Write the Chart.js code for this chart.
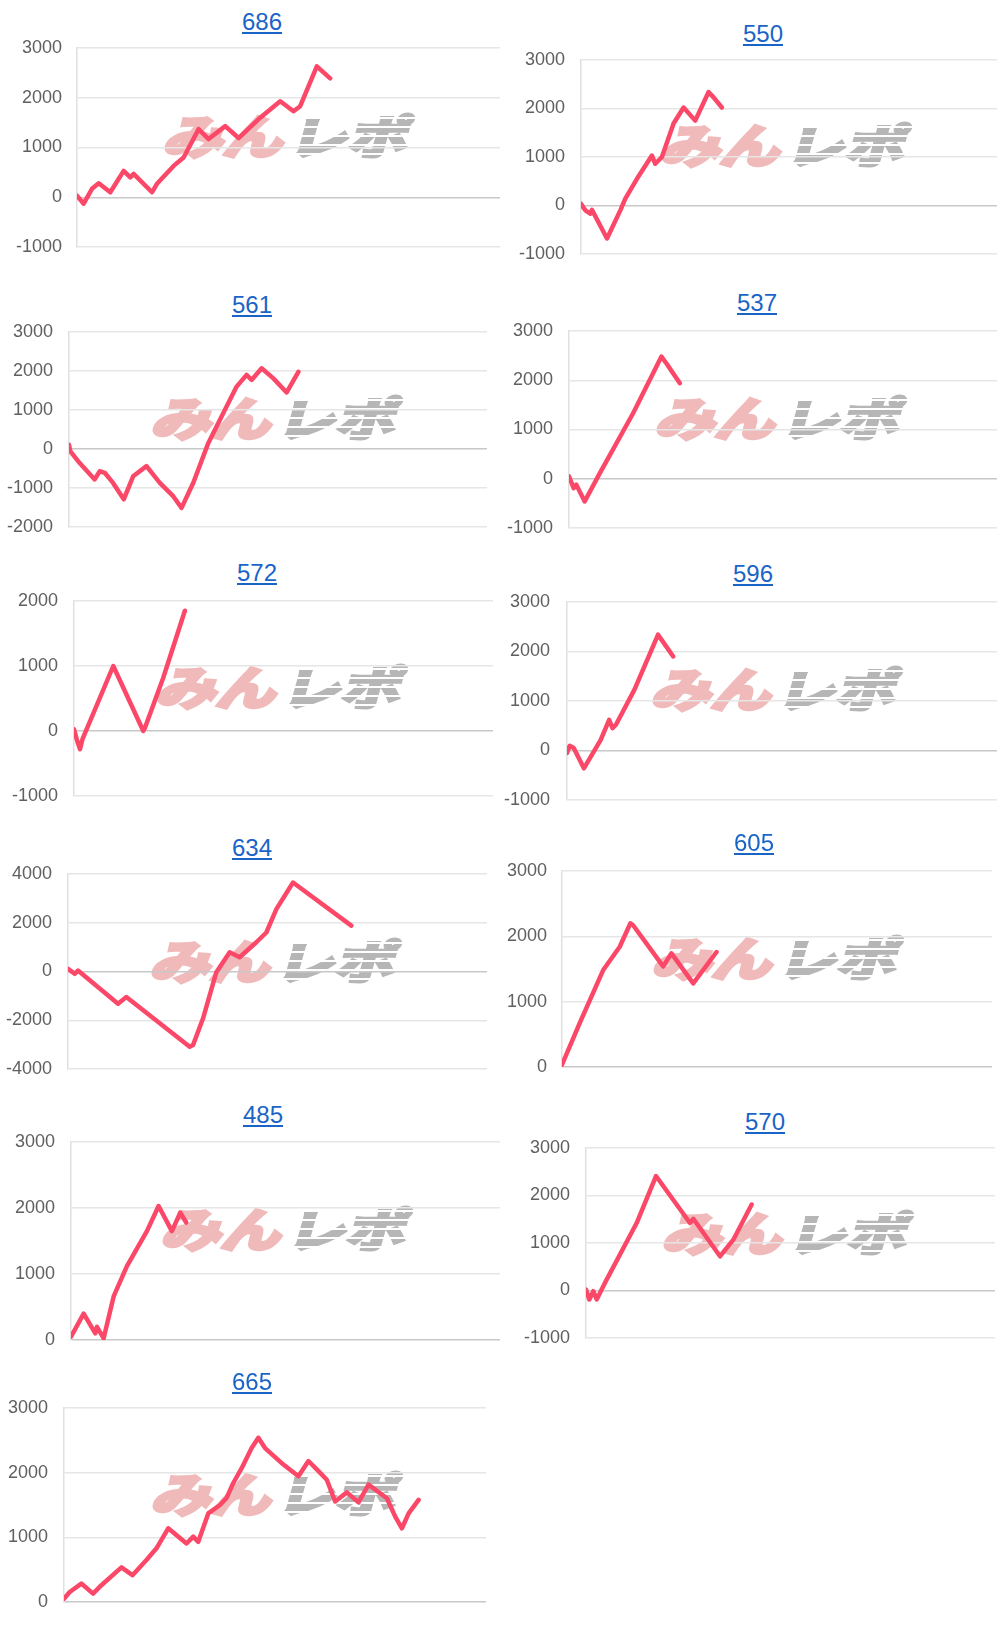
<!DOCTYPE html>
<html>
<head>
<meta charset="utf-8">
<script src="https://cdn.jsdelivr.net/npm/chart.js@4.4.1/dist/chart.umd.min.js"></script>
<style>
body { margin: 0; background: #fff; }
#page { position: relative; width: 1000px; height: 1625px; overflow: hidden; font-family: "Liberation Sans", Arial, sans-serif; }
.title { position: absolute; transform: translate(-50%, -50%); font-size: 24px; color: #1a64c8; text-decoration: underline; white-space: nowrap; }
.wm { position: absolute; transform: translate(-50%, -50%) scaleX(1.3) skewX(-12deg); font-family: "Noto Sans CJK JP", sans-serif; font-weight: 700; font-size: 46px; line-height: 1; white-space: nowrap; }
.wm .a { -webkit-text-stroke: 4px rgb(241, 186, 186); color: rgb(241, 186, 186); }
.wm .b { position: relative; margin-left: 4px; color: #b6b6b6; -webkit-text-stroke: 3.5px #b6b6b6; }
.wm .b::after { content: ""; position: absolute; left: -4px; right: -4px; top: 0; bottom: 0;
  background: repeating-linear-gradient(180deg, rgba(255,255,255,0) 0 7px, #fff 7px 9px); }
canvas { position: absolute; }
</style>
</head>
<body>
<div id="page"></div>
<script>
// machine numbers (chart titles)
const machines = ['686', '550', '561', '537', '572', '596', '634', '605', '485', '570', '665'];

// games played / cumulative difference
const games686 = [0, 126, 283, 410, 630, 882, 1008, 1071, 1418, 1512, 1827, 2016, 2300, 2489, 2804, 3056, 3465, 3843, 4095, 4221, 4536, 4788];
const diff686 = [30, -130, 170, 280, 100, 530, 400, 470, 100, 270, 630, 800, 1370, 1170, 1430, 1190, 1600, 1930, 1730, 1830, 2630, 2390];

const games550 = [0, 83, 179, 211, 500, 756, 852, 1076, 1364, 1428, 1556, 1780, 1973, 2197, 2453, 2549, 2709];
const diff550 = [35, -100, -170, -90, -680, -100, 140, 550, 1030, 860, 1000, 1690, 2020, 1750, 2340, 2230, 2020];

const games561 = [0, 26, 204, 492, 588, 684, 843, 1048, 1227, 1483, 1738, 1994, 2154, 2377, 2665, 2889, 3208, 3399, 3495, 3687, 3911, 4166, 4390];
const diff561 = [110, -60, -360, -780, -570, -610, -870, -1290, -700, -440, -870, -1210, -1510, -870, 150, 750, 1600, 1900, 1770, 2070, 1810, 1450, 1980];

const games537 = [0, 87, 137, 293, 574, 1198, 1728, 1822, 2072];
const diff537 = [50, -190, -120, -460, 110, 1330, 2480, 2340, 1940];

const games572 = [0, 60, 115, 160, 750, 1323, 1355, 1704, 2117];
const diff572 = [25, -150, -280, -130, 1000, 0, 50, 820, 1850];

const games596 = [0, 50, 125, 314, 627, 784, 847, 910, 1255, 1694, 1757, 1976];
const diff596 = [-50, 95, 50, -360, 215, 620, 450, 520, 1230, 2340, 2240, 1900];

const games634 = [0, 127, 191, 955, 1114, 2323, 2387, 2577, 2705, 2832, 3087, 3277, 3596, 3787, 3978, 4296, 5409];
const diff634 = [110, -95, 40, -1320, -1050, -3090, -3020, -1930, -980, -30, 790, 585, 1200, 1600, 2560, 3650, 1880];

const games605 = [0, 329, 764, 1074, 1273, 1323, 1882, 2037, 2441, 2875];
const diff605 = [35, 670, 1480, 1840, 2200, 2170, 1540, 1740, 1280, 1760];

const games485 = [0, 236, 453, 484, 609, 795, 1043, 1416, 1633, 1882, 2037, 2149];
const diff485 = [50, 400, 100, 200, 25, 660, 1120, 1650, 2030, 1650, 1930, 1780];

const games570 = [0, 65, 143, 209, 404, 991, 1369, 2034, 2099, 2621, 2882, 3240];
const diff570 = [20, -190, -15, -190, 230, 1420, 2410, 1420, 1510, 720, 1070, 1810];

const games665 = [0, 108, 329, 551, 677, 1089, 1298, 1563, 1753, 1975, 2323, 2450, 2545, 2735, 2956, 3083, 3209, 3368, 3557, 3684, 3811, 4159, 4444, 4634, 4792, 4982, 5140, 5362, 5583, 5773, 6121, 6279, 6406, 6533, 6722];
const diff665 = [50, 155, 285, 130, 235, 535, 415, 650, 830, 1140, 905, 1010, 930, 1370, 1500, 1610, 1840, 2070, 2380, 2540, 2380, 2125, 1945, 2180, 2050, 1890, 1555, 1695, 1540, 1815, 1605, 1320, 1140, 1370, 1580];

// y axis ranges (min, max, step)
const yMin = [-1000, -1000, -2000, -1000, -1000, -1000, -4000, 0, 0, -1000, 0];
const yMax = [3000, 3000, 3000, 3000, 2000, 3000, 4000, 3000, 3000, 3000, 3000];
const yStep = [1000, 1000, 1000, 1000, 1000, 1000, 2000, 1000, 1000, 1000, 1000];
const gamesMax = 8000;

const series = [
    [games686, diff686], [games550, diff550], [games561, diff561], [games537, diff537],
    [games572, diff572], [games596, diff596], [games634, diff634], [games605, diff605],
    [games485, diff485], [games570, diff570], [games665, diff665]
];

// where each little chart sits on the page
const layout = [
    { col: 0,   axisX: 77,  right: 500, top: 48,   bottom: 247,  labelRight: 62,  title: [262, 22],   wm: [290, 134] },
    { col: 500, axisX: 581, right: 997, top: 60,   bottom: 254,  labelRight: 565, title: [763, 34],   wm: [787, 143] },
    { col: 0,   axisX: 69,  right: 487, top: 332,  bottom: 527,  labelRight: 53,  title: [252, 305],  wm: [278, 416] },
    { col: 500, axisX: 569, right: 997, top: 331,  bottom: 528,  labelRight: 553, title: [757, 303],  wm: [782, 416] },
    { col: 0,   axisX: 74,  right: 493, top: 601,  bottom: 796,  labelRight: 58,  title: [257, 573],  wm: [283, 685] },
    { col: 500, axisX: 567, right: 997, top: 602,  bottom: 800,  labelRight: 550, title: [753, 574],  wm: [778, 687] },
    { col: 0,   axisX: 68,  right: 487, top: 874,  bottom: 1069, labelRight: 52,  title: [252, 848],  wm: [277, 959] },
    { col: 500, axisX: 562, right: 992, top: 871,  bottom: 1067, labelRight: 547, title: [754, 843],  wm: [779, 956] },
    { col: 0,   axisX: 71,  right: 500, top: 1142, bottom: 1340, labelRight: 55,  title: [263, 1115], wm: [288, 1227] },
    { col: 500, axisX: 586, right: 995, top: 1148, bottom: 1338, labelRight: 570, title: [765, 1122], wm: [789, 1231] },
    { col: 0,   axisX: 64,  right: 486, top: 1408, bottom: 1602, labelRight: 48,  title: [252, 1382], wm: [278, 1492] }
];

const page = document.getElementById('page');
// must be larger than half a tick label + tick padding, or Chart.js grows it
const padTop = 32, padBottom = 32;

layout.forEach(function(p, i) {
    // title link
    const t = document.createElement('a');
    t.className = 'title';
    t.href = '#';
    t.textContent = machines[i];
    t.style.left = p.title[0] + 'px';
    t.style.top = p.title[1] + 'px';
    page.appendChild(t);

    // watermark
    const wm = document.createElement('div');
    wm.className = 'wm';
    wm.innerHTML = '<span class="a">みん</span><span class="b">レポ</span>';
    wm.style.left = p.wm[0] + 'px';
    wm.style.top = p.wm[1] + 'px';
    page.appendChild(wm);

    const canvas = document.createElement('canvas');
    canvas.width = p.right - p.col + 2;
    canvas.height = p.bottom - p.top + padTop + padBottom;
    canvas.style.left = p.col + 'px';
    canvas.style.top = (p.top - padTop) + 'px';
    page.appendChild(canvas);

    const xs = series[i][0], ys = series[i][1];

    new Chart(canvas.getContext('2d'), {
        type: 'line',
        data: {
            datasets: [{
                data: xs.map(function(g, k) { return { x: g, y: ys[k] }; }),
                borderColor: 'rgb(252, 72, 104)',
                borderWidth: 4.5,
                borderJoinStyle: 'round',
                borderCapStyle: 'round',
                pointRadius: 0,
                tension: 0,
                fill: false
            }]
        },
        options: {
            responsive: false,
            animation: false,
            events: [],
            layout: { padding: { top: padTop, bottom: padBottom, left: 0, right: 2 } },
            plugins: {
                legend: { display: false },
                tooltip: { enabled: false }
            },
            scales: {
                x: { type: 'linear', display: false, min: 0, max: gamesMax },
                y: {
                    min: yMin[i],
                    max: yMax[i],
                    afterFit: function(scale) { scale.width = p.axisX - p.col; },
                    ticks: {
                        stepSize: yStep[i],
                        padding: p.axisX - p.labelRight,
                        color: '#606060',
                        font: { size: 18, family: '"Liberation Sans", Arial, sans-serif' },
                        callback: function(value) { return String(value); } // no thousands comma
                    },
                    grid: {
                        drawTicks: false,
                        lineWidth: 1.5,
                        color: function(ctx) { return ctx.tick && ctx.tick.value === 0 ? '#c8c8c8' : '#e6e6e6'; }
                    },
                    border: { display: true, color: '#e0e0e0', width: 1.5 }
                }
            }
        }
    });
});
</script>
</body>
</html>
